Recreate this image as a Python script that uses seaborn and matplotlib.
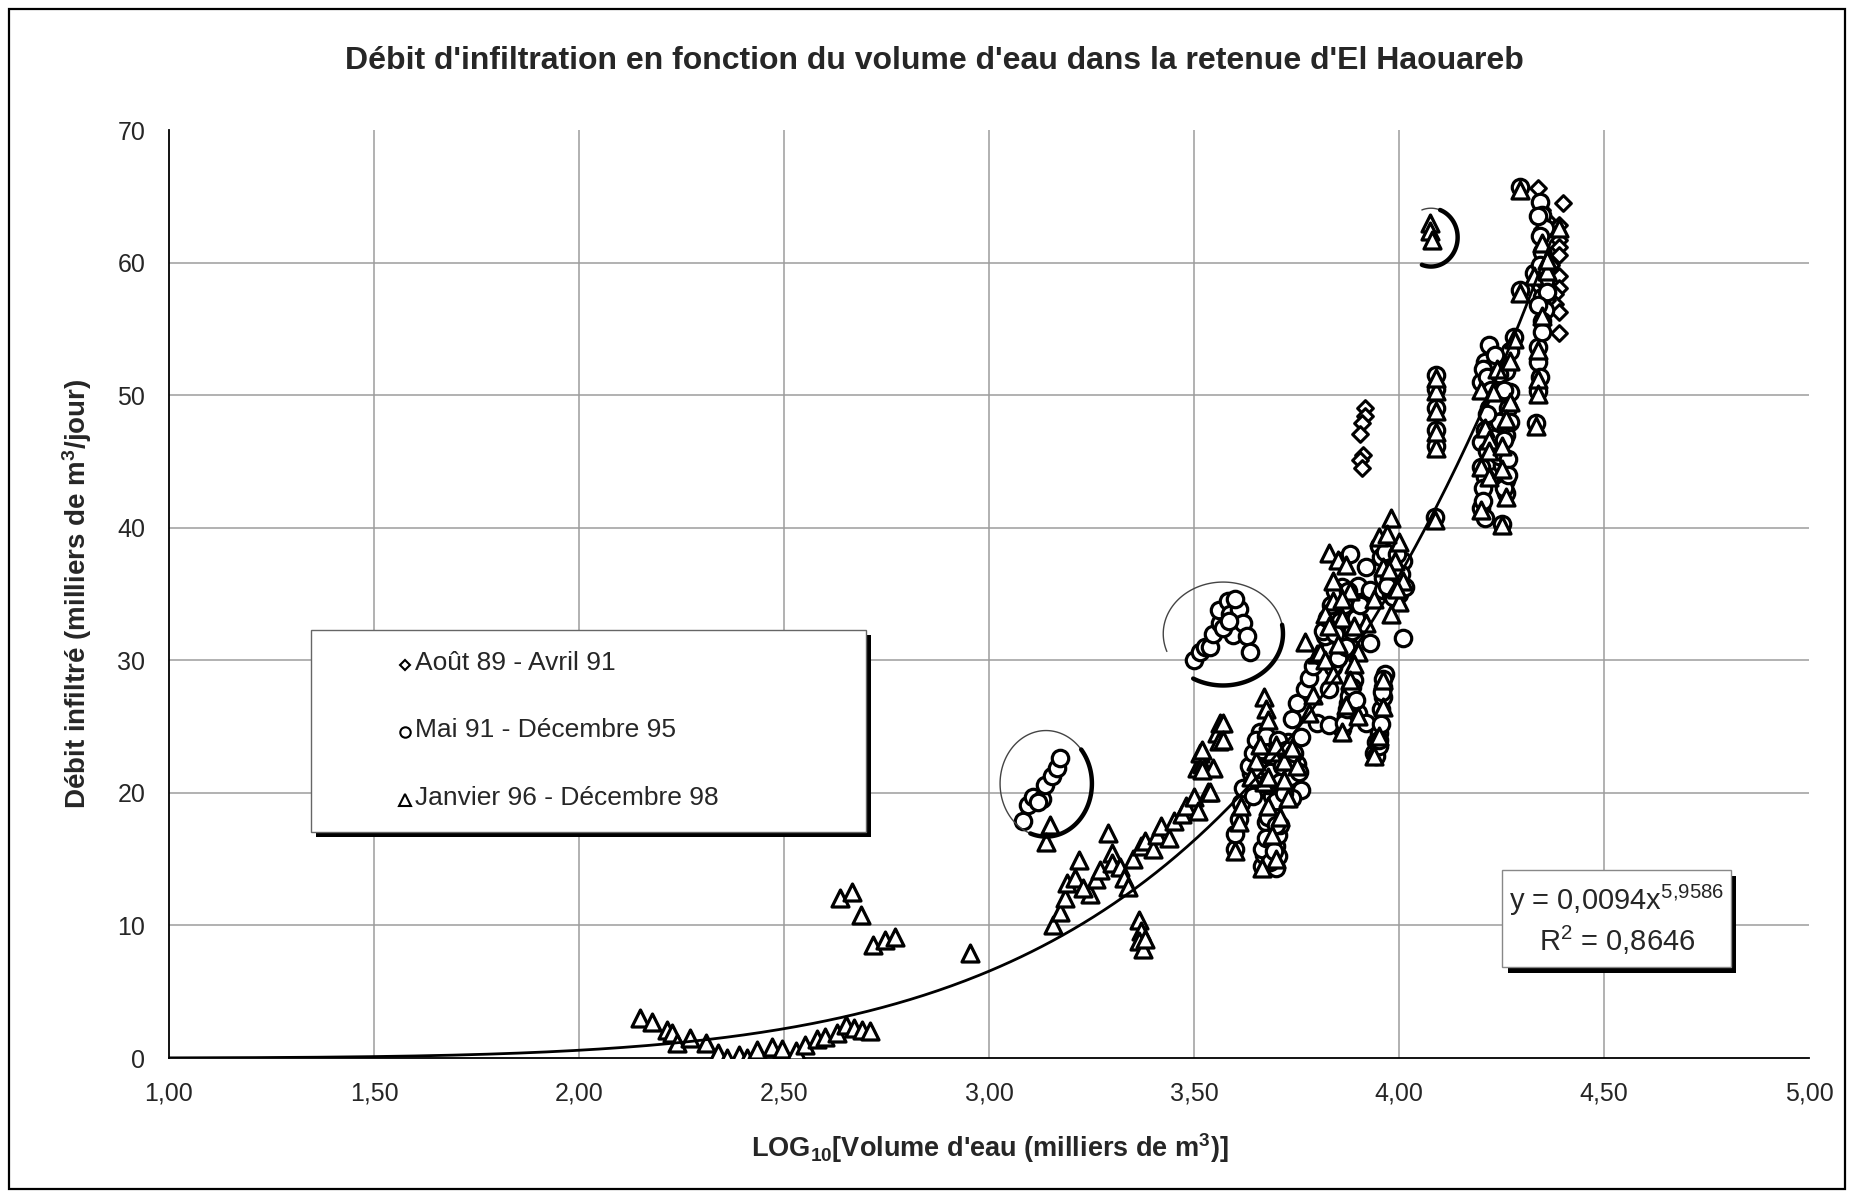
import numpy as np
import pandas as pd
import matplotlib
matplotlib.use("Agg")
import matplotlib.pyplot as plt
import seaborn as sns
from matplotlib.patches import Rectangle
from matplotlib.lines import Line2D

# ---------------------------------------------------------------
# Observations: log10(volume stored, thousands m3) vs infiltration
# rate (thousands m3/day), grouped by period
# ---------------------------------------------------------------
series_labels = ["Août 89 - Avril 91", "Mai 91 - Décembre 95", "Janvier 96 - Décembre 98"]

aout_x = [3.917, 3.917, 3.910, 3.905, 3.913, 3.905, 3.910,
          4.340, 4.400, 4.390, 4.390, 4.390, 4.390, 4.390, 4.390, 4.380, 4.380,
          4.390, 4.390, 4.350, 4.360, 4.350, 4.370, 4.360]
aout_y = [49.0, 48.4, 47.9, 47.1, 45.5, 45.1, 44.5,
          65.6, 64.5, 62.8, 61.7, 61.2, 60.6, 59.0, 58.1, 57.6, 56.9,
          56.3, 54.7, 64.0, 63.2, 62.5, 59.8, 57.2]

mai_x = [3.083, 3.095, 3.107, 3.130, 3.137, 3.154, 3.166, 3.173, 3.120,
         3.500, 3.515, 3.527, 3.540, 3.547, 3.563, 3.560, 3.583, 3.588, 3.610,
         3.595, 3.620, 3.630, 3.637, 3.570, 3.585, 3.600,
         3.600, 3.600, 3.610, 3.615, 3.620,
         3.665, 3.670, 3.680, 3.690, 3.675, 3.690, 3.700, 3.705, 3.700,
         3.640, 3.650, 3.655, 3.660, 3.670, 3.680, 3.690, 3.700, 3.710, 3.720,
         3.730, 3.740, 3.750, 3.760, 3.730, 3.760, 3.645, 3.690,
         3.740, 3.750, 3.770, 3.780, 3.790, 3.800, 3.810, 3.830, 3.840, 3.850,
         3.820, 3.830, 3.840, 3.850, 3.860, 3.870, 3.880, 3.890, 3.900, 3.860, 3.880,
         3.860, 3.870, 3.875, 3.880, 3.890, 3.900, 3.830, 3.830,
         3.940, 3.945, 3.950, 3.955, 3.960, 3.960, 3.965, 3.920,
         3.860, 3.880, 3.920, 3.930, 3.960, 3.980, 3.930, 4.010,
         3.950, 3.970, 3.980, 3.990, 4.000, 4.010, 3.960,
         4.088, 4.090, 4.090, 4.090, 4.090, 4.090,
         4.200, 4.210, 4.220, 4.230, 4.240, 4.250, 4.220, 4.230, 4.210, 4.200,
         4.220, 4.200, 4.210, 4.250, 4.260, 4.260, 4.250, 4.260, 4.240, 4.200,
         4.210, 4.250, 4.270, 4.280, 4.260, 4.270,
         4.340, 4.340, 4.345, 4.340, 4.335,
         4.295, 4.345, 4.350, 4.355, 4.330, 4.295, 4.345, 4.350, 4.355, 4.350,
         3.635, 3.645, 3.650, 3.660, 3.665, 3.675, 3.680, 3.685, 3.695, 3.705,
         3.710, 3.715, 3.725, 3.735, 3.745, 3.755, 3.740, 3.700, 3.720,
         3.665, 3.675, 3.685, 3.695, 3.705, 3.710, 3.680, 3.700,
         3.815, 3.825, 3.835, 3.845, 3.855, 3.865, 3.875, 3.885, 3.895, 3.845, 3.905, 3.870,
         3.945, 3.950, 3.955, 3.958, 3.962, 3.952,
         3.865, 3.872, 3.878, 3.885, 3.895,
         3.955, 3.965, 3.975, 3.985, 3.995, 4.005, 4.015, 3.985, 3.970,
         4.205, 4.215, 4.225, 4.235, 4.245, 4.215, 4.230, 4.245, 4.255, 4.265,
         4.215, 4.255, 4.265, 4.235, 4.245, 4.255, 4.265, 4.270, 4.205, 4.205,
         4.340, 4.345, 4.350, 4.345, 4.355, 4.360, 4.340, 4.350]
mai_y = [17.9, 19.1, 19.7, 19.5, 20.6, 21.3, 21.9, 22.6, 19.3,
         30.0, 30.6, 31.0, 31.0, 32.0, 32.8, 33.8, 34.5, 33.5, 33.9,
         31.9, 32.8, 31.8, 30.6, 32.4, 33.0, 34.6,
         15.8, 16.9, 18.0, 19.2, 20.4,
         14.5, 15.3, 16.2, 17.0, 17.8, 18.6, 14.3, 15.2, 16.0,
         21.5, 22.6, 23.7, 24.6, 21.0, 22.2, 23.3, 20.3, 21.5, 22.6,
         23.8, 21.0, 22.2, 24.2, 19.8, 20.2, 19.8, 19.8,
         25.6, 26.8, 27.8, 28.7, 29.6, 25.3, 30.3, 30.8, 29.5, 30.2,
         31.8, 32.8, 33.8, 34.7, 35.5, 32.5, 33.6, 34.8, 35.6, 31.5, 31.0,
         24.8, 25.8, 26.8, 27.8, 28.5, 26.0, 25.1, 27.8,
         23.0, 23.8, 24.5, 26.3, 27.2, 28.0, 29.0, 25.3,
         37.5, 38.0, 37.0, 35.3, 35.3, 35.0, 31.3, 31.7,
         38.6, 37.8, 36.8, 36.0, 35.0, 37.5, 36.2,
         40.8, 46.2, 47.4, 49.0, 50.5, 51.5,
         51.0, 52.5, 53.8, 52.2, 50.8, 49.5, 49.0, 47.8, 47.4, 46.5,
         45.0, 44.6, 43.8, 44.7, 43.6, 42.6, 48.6, 47.0, 46.0, 41.5,
         40.7, 40.3, 53.3, 54.4, 51.8, 50.2,
         53.6, 52.5, 51.4, 50.3, 47.9,
         65.7, 64.6, 63.6, 62.6, 59.2, 57.9, 58.4, 57.4, 56.4, 55.6,
         22.0, 23.0, 24.0, 21.8, 23.2, 24.3, 20.6, 21.6, 22.8, 24.0,
         20.8, 22.0, 23.2, 21.2, 23.0, 21.6, 19.6, 19.4, 20.0,
         15.8, 16.6, 14.8, 15.6, 16.8, 17.6, 18.2, 17.6,
         32.2, 33.2, 34.2, 35.2, 33.0, 34.2, 35.2, 32.2, 33.2, 32.0, 34.2, 31.0,
         22.8, 23.5, 25.2, 27.6, 28.6, 24.0,
         25.3, 26.3, 27.3, 28.0, 27.0,
         37.8, 38.2, 36.4, 37.0, 38.0, 36.5, 35.5, 34.8, 35.6,
         52.0, 51.4, 50.4, 49.2, 48.0, 48.6, 46.8, 45.4, 46.6, 45.2,
         45.8, 43.0, 44.0, 53.0, 51.6, 50.4, 49.0, 48.0, 43.0, 42.0,
         63.5, 62.0, 60.8, 59.8, 58.6, 57.8, 56.8, 54.8]

janv_x = [2.149, 2.178, 2.214, 2.226, 2.240, 2.270, 2.310, 2.340, 2.360, 2.390,
          2.410, 2.434, 2.470, 2.495, 2.530, 2.550, 2.580, 2.600, 2.630, 2.650,
          2.670, 2.690, 2.710,
          2.637, 2.666, 2.687, 2.717, 2.746, 2.770, 2.954,
          3.149, 3.140,
          3.157, 3.173, 3.185, 3.190, 3.210, 3.220, 3.246, 3.230, 3.260, 3.270,
          3.290, 3.300, 3.300, 3.320, 3.330, 3.340, 3.350, 3.370, 3.380, 3.400,
          3.410, 3.420, 3.440, 3.450, 3.470, 3.480, 3.500, 3.510,
          3.367, 3.370, 3.365, 3.375, 3.380,
          3.535, 3.507, 3.515, 3.520, 3.547, 3.563, 3.556, 3.560,
          4.076, 4.076, 4.080,
          3.600, 3.610, 3.615, 3.665, 3.690, 3.700, 3.650, 3.670, 3.690, 3.720,
          3.730, 3.750,
          3.670, 3.675, 3.680, 3.570, 3.570, 3.520, 3.520, 3.540,
          3.770, 3.800, 3.807, 3.820, 3.840, 3.790, 3.780,
          3.830, 3.850, 3.870, 3.840, 3.840, 3.860, 3.820, 3.880, 3.900, 3.890, 3.920,
          3.950, 3.980, 4.000, 3.970, 3.960, 3.990, 4.000, 4.010, 3.980, 3.940,
          3.860, 3.870, 3.880, 3.950, 3.960, 3.960, 3.940, 3.900,
          4.088, 4.090, 4.090, 4.090, 4.090, 4.090,
          4.200, 4.210, 4.220, 4.200, 4.220, 4.250, 4.260, 4.270, 4.240, 4.200,
          4.250, 4.280, 4.270,
          4.340, 4.340, 4.340, 4.335,
          4.295, 4.330, 4.360, 4.295, 4.390, 4.350, 4.350, 4.360,
          3.640, 3.660, 3.680, 3.700, 3.720, 3.740, 3.680, 3.710, 3.830, 3.860,
          3.890, 3.850, 4.230, 4.260, 4.220, 4.250, 3.975, 3.995]
janv_y = [3.0, 2.7, 2.1, 1.9, 1.1, 1.5, 1.1, 0.4, 0.0, 0.2,
          0.0, 0.6, 0.8, 0.7, 0.5, 1.0, 1.4, 1.6, 1.9, 2.5,
          2.3, 2.1, 2.0,
          12.1, 12.5, 10.8, 8.5, 8.9, 9.1, 7.9,
          17.6, 16.3,
          10.0, 11.0, 12.1, 13.2, 13.6, 14.9, 12.4, 12.8, 13.5, 14.2,
          17.0, 15.5, 14.7, 14.4, 13.6, 12.9, 15.0, 16.0, 16.4, 15.8,
          16.8, 17.5, 16.6, 17.9, 18.4, 19.0, 19.7, 18.6,
          10.4, 9.6, 8.8, 8.2, 9.0,
          20.1, 21.9, 23.0, 22.2, 21.9, 25.3, 24.5, 23.9,
          63.0, 62.4, 61.7,
          15.6, 17.8, 19.0, 14.3, 16.8, 15.0, 22.4, 20.8, 23.1, 22.4,
          19.6, 22.0,
          27.2, 26.3, 25.5, 25.3, 24.0, 23.2, 21.7, 20.1,
          31.4, 30.5, 30.6, 30.0, 29.0, 27.4, 26.0,
          38.1, 37.6, 37.2, 36.0, 34.5, 33.2, 33.5, 35.2, 30.6, 29.7, 32.8,
          39.3, 40.7, 38.9, 39.5, 37.0, 37.5, 34.4, 36.0, 33.5, 34.6,
          24.6, 26.6, 28.5, 24.3, 26.5, 28.5, 22.8, 25.8,
          40.6, 46.0, 47.2, 48.8, 50.3, 51.3,
          50.4, 47.5, 46.6, 44.6, 43.8, 44.4, 42.3, 49.5, 52.0, 41.3,
          40.2, 54.2, 52.6,
          53.4, 51.2, 50.1, 47.7,
          65.5, 59.0, 59.4, 57.7, 62.6, 61.5, 56.0, 60.2,
          21.2, 23.6, 21.2, 23.6, 21.0, 23.4, 19.0, 18.2, 32.6, 34.6,
          32.6, 31.2, 50.2, 48.2, 45.8, 46.2, 36.8, 35.4]

# Power-law trend fitted over all periods
trend_coef = 0.0094
trend_exp = 5.9586
trend_r2 = 0.8646
trend_x_range = [1.0, 4.37]

x_ticks = [1.0, 1.5, 2.0, 2.5, 3.0, 3.5, 4.0, 4.5, 5.0]
y_ticks = [0, 10, 20, 30, 40, 50, 60, 70]

# hand-drawn rings around the outlying groups:
# (centre x, centre y, half-width, half-height, thin arc, thick arc) -- arcs in degrees
rings = [
    (3.139, 20.7, 0.112, 4.0, (40, 250), (-110, 40)),
    (3.571, 32.0, 0.146, 3.9, (10, 200), (-120, 10)),
    (4.078, 61.9, 0.065, 2.2, (70, 110), (-110, 70)),
]


def fr(v, nd):
    return f"{v:.{nd}f}".replace(".", ",")


sns.set_style("white")
plt.rcParams["font.family"] = ["Liberation Sans", "DejaVu Sans"]
plt.rcParams["mathtext.default"] = "regular"

W, H = 1852, 1193
fig = plt.figure(figsize=(W / 100, H / 100), dpi=100)
fig.patch.set_facecolor("white")


def fx(px):
    return px / W


def fy(py):
    return 1 - py / H


ax = fig.add_axes([fx(169), fy(1058), (1809 - 169) / W, (1058 - 130) / H])
ax.set_facecolor("white")

# grid (inner ticks only)
for v in x_ticks[1:-1]:
    ax.axvline(v, color="#9c9c9c", lw=1.1, zorder=0)
for v in y_ticks[1:-1]:
    ax.axhline(v, color="#9c9c9c", lw=1.1, zorder=0)

df_aout = pd.DataFrame({"x": aout_x, "y": aout_y})
df_mai = pd.DataFrame({"x": mai_x, "y": mai_y})
df_janv = pd.DataFrame({"x": janv_x, "y": janv_y})

sns.scatterplot(data=df_aout, x="x", y="y", marker="D", s=64, color="white",
                edgecolor="black", linewidth=2.2, ax=ax, zorder=3, legend=False)
sns.scatterplot(data=df_mai, x="x", y="y", marker="o", s=140, color="white",
                edgecolor="black", linewidth=2.3, ax=ax, zorder=3, legend=False)
sns.scatterplot(data=df_janv, x="x", y="y", marker="^", s=150, color="white",
                edgecolor="black", linewidth=2.3, ax=ax, zorder=3, legend=False)

tx = np.linspace(trend_x_range[0], trend_x_range[1], 400)
ty = trend_coef * tx ** trend_exp
sns.lineplot(x=tx, y=ty, color="black", lw=2.0, ax=ax, zorder=4,
             estimator=None, sort=False)


def ring_arc(cx, cy, rx, ry, a0, a1, **kw):
    t = np.radians(np.linspace(a0, a1, 120))
    ax.plot(cx + rx * np.cos(t), cy + ry * np.sin(t), solid_capstyle="round", zorder=5, **kw)


for cx, cy, rx, ry, thin, thick in rings:
    ring_arc(cx, cy, rx, ry, thin[0], thin[1], color="#444444", lw=1.0)
    ring_arc(cx, cy, rx, ry, thick[0], thick[1], color="black", lw=3.2)

ax.set_xlim(1, 5)
ax.set_ylim(0, 70)
ax.set_xticks(x_ticks)
ax.set_xticklabels([fr(v, 2) for v in x_ticks])
ax.set_yticks(y_ticks)
ax.set_yticklabels([str(v) for v in y_ticks])
ax.tick_params(axis="both", direction="out", length=6, width=1.2,
               labelsize=18, pad=11, color="black")
ax.set_xlabel("")
ax.set_ylabel("")
for s in ["top", "right"]:
    ax.spines[s].set_visible(False)
for s in ["left", "bottom"]:
    ax.spines[s].set_color("black")
    ax.spines[s].set_linewidth(1.3)

# titles and axis labels
fig.text(fx(934), fy(61), "Débit d'infiltration en fonction du volume d'eau dans la retenue d'El Haouareb",
         ha="center", va="center", fontsize=23, fontweight="bold")
fig.text(fx(77), fy(594), "Débit infiltré (milliers de m$^3$/jour)",
         ha="center", va="center", rotation=90, fontsize=20, fontweight="bold")
fig.text(fx(990), fy(1148), "LOG$_{10}$[Volume d'eau (milliers de m$^3$)]",
         ha="center", va="center", fontsize=19.5, fontweight="bold")

# legend box with drop shadow
fig.add_artist(Rectangle((fx(316), fy(837)), (871 - 316) / W, (837 - 635) / H,
                         transform=fig.transFigure, facecolor="black", edgecolor="none", zorder=5))
fig.add_artist(Rectangle((fx(311), fy(832)), (866 - 311) / W, (832 - 630) / H,
                         transform=fig.transFigure, facecolor="white", edgecolor="#666666",
                         lw=1.0, zorder=6))
leg_markers = ["D", "o", "^"]
leg_sizes = [5.5, 7.5, 8]
leg_rows = [663, 730, 798]
for lab, mk, ms, ry in zip(series_labels, leg_markers, leg_sizes, leg_rows):
    fig.add_artist(Line2D([fx(405)], [fy(ry + 2)], marker=mk, markersize=ms, mfc="white",
                          mec="black", mew=1.5, linestyle="none",
                          transform=fig.transFigure, zorder=7))
    fig.text(fx(415), fy(ry), lab, ha="left", va="center", fontsize=19, zorder=7)

# trend equation box with drop shadow
fig.add_artist(Rectangle((fx(1508), fy(973)), (1736 - 1508) / W, (973 - 876) / H,
                         transform=fig.transFigure, facecolor="black", edgecolor="none", zorder=5))
fig.add_artist(Rectangle((fx(1502), fy(967)), (1731 - 1502) / W, (967 - 870) / H,
                         transform=fig.transFigure, facecolor="white", edgecolor="#888888",
                         lw=1.0, zorder=6))
eq = "y = " + fr(trend_coef, 4) + "x$^{" + fr(trend_exp, 4).replace(",", "{,}") + "}$"
fig.text(fx(1617), fy(900), eq, ha="center", va="center", fontsize=21, zorder=7)
fig.text(fx(1617), fy(940), "R$^2$ = " + fr(trend_r2, 4), ha="center", va="center",
         fontsize=21, zorder=7)

# outer chart frame
fig.add_artist(Rectangle((fx(9), fy(1189)), (1845 - 9) / W, (1189 - 9) / H,
                         transform=fig.transFigure, fill=False, edgecolor="black", lw=1.6))

fig.savefig("out.png", dpi=100)
